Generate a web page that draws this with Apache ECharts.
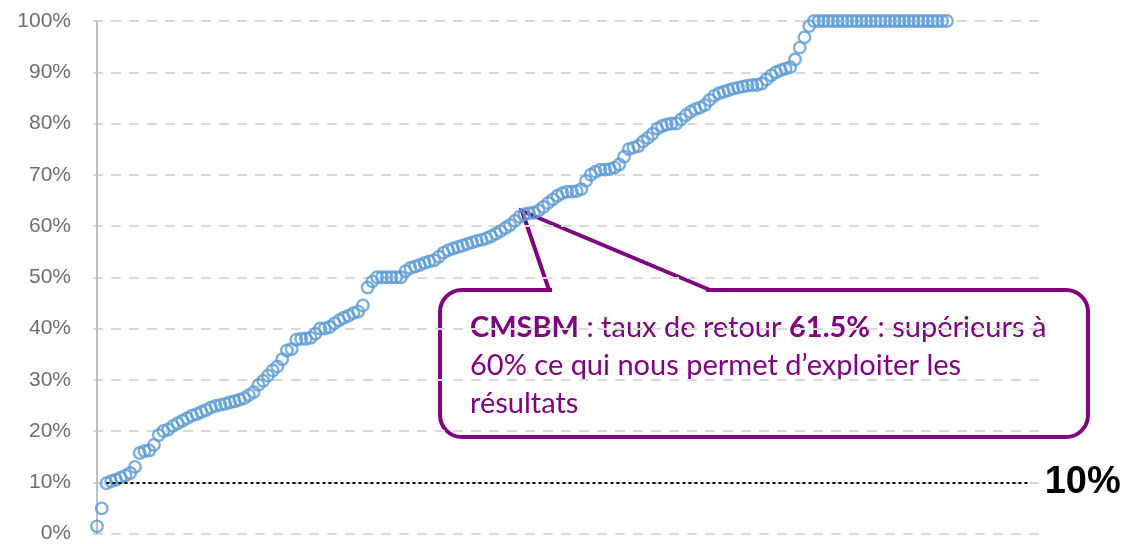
<!DOCTYPE html>
<html>
<head>
<meta charset="utf-8">
<script src="https://cdn.jsdelivr.net/npm/echarts@6/dist/echarts.min.js"></script>
<style>
  html, body { margin: 0; padding: 0; background: #fff; }
  #myChart { width: 1136px; height: 544px; }
</style>
</head>
<body>
<div id="myChart"></div>
<script>
// taux de retour par établissement (trié), en %
var tauxRetour = [
  1.4, 4.9, 9.8, 10.2, 10.5, 10.9, 11.3, 11.8, 13.0, 15.7,
  16.1, 16.2, 17.3, 19.2, 20.0, 20.3, 21.0, 21.5, 22.0, 22.5,
  23.0, 23.3, 23.7, 24.1, 24.6, 24.9, 25.1, 25.3, 25.6, 25.8,
  26.1, 26.4, 27.0, 27.6, 29.0, 29.8, 30.8, 31.8, 32.6, 34.0,
  35.7, 36.0, 37.8, 38.0, 38.0, 38.2, 39.0, 40.0, 40.0, 40.3,
  41.0, 41.6, 42.1, 42.5, 43.0, 43.3, 44.5, 48.0, 49.2, 50.0,
  50.0, 50.0, 50.0, 50.0, 50.0, 51.2, 51.8, 52.1, 52.4, 52.8,
  53.1, 53.3, 54.0, 54.8, 55.3, 55.6, 55.9, 56.2, 56.5, 56.8,
  57.1, 57.3, 57.6, 58.0, 58.5, 59.0, 59.6, 60.2, 61.0, 61.8,
  62.3, 62.5, 62.6, 63.0, 63.7, 64.5, 65.2, 65.9, 66.4, 66.7,
  66.7, 66.8, 67.2, 68.8, 70.0, 70.6, 71.0, 71.0, 71.1, 71.4,
  72.0, 73.5, 75.0, 75.3, 75.6, 76.5, 77.2, 78.0, 79.0, 79.5,
  79.8, 80.0, 80.0, 80.8, 81.6, 82.3, 82.8, 83.1, 83.6, 84.6,
  85.4, 85.9, 86.2, 86.5, 86.8, 87.0, 87.2, 87.4, 87.5, 87.5,
  87.8, 88.6, 89.4, 90.0, 90.4, 90.7, 91.0, 92.5, 94.8, 96.8,
  99.0, 100, 100, 100, 100, 100, 100, 100, 100, 100,
  100, 100, 100, 100, 100, 100, 100, 100, 100, 100,
  100, 100, 100, 100, 100, 100, 100, 100, 100, 100
];
var seuil = 10;
var yTicks = ['0%', '10%', '20%', '30%', '40%', '50%', '60%', '70%', '80%', '90%', '100%'];

var points = tauxRetour.map(function (v, i) { return [i, v]; });

var violet = '#800080';
var myChart = echarts.init(document.getElementById('myChart'));

var option = {
    animation: false,
    grid: { left: 93, right: 96, top: 21, bottom: 9, containLabel: false },
    xAxis: {
        type: 'value',
        min: -0.84,
        max: 198.6,
        show: false
    },
    yAxis: {
        type: 'value',
        min: 0,
        max: 100,
        interval: 10,
        axisLine: { show: true, lineStyle: { color: '#bfbfbf', width: 2 } },
        axisTick: { show: false },
        axisLabel: {
            margin: 22,
            fontSize: 21,
            color: '#6e6e6e',
            fontFamily: 'Liberation Sans',
            formatter: function (v) { return yTicks[Math.round(v / 10)]; }
        },
        splitLine: { show: true, lineStyle: { color: '#d9d9d9', width: 2, type: [10, 8] } }
    },
    series: [
        {
            name: 'taux de retour',
            type: 'scatter',
            data: points,
            symbol: 'circle',
            symbolSize: 11.5,
            itemStyle: { color: 'rgba(0,0,0,0)', borderColor: '#5b9bd5', borderWidth: 2.4 },
            markLine: {
                silent: true,
                symbol: 'none',
                lineStyle: { color: '#000', width: 2, type: [3, 3] },
                label: {
                    show: true,
                    position: 'end',
                    distance: 17,
                    formatter: seuil + '%',
                    fontSize: 38,
                    fontWeight: 'bold',
                    color: '#000',
                    fontFamily: 'Liberation Sans'
                },
                data: [[{ xAxis: 2, yAxis: seuil }, { xAxis: 196, yAxis: seuil }]]
            }
        }
    ],
    graphic: [
        // bulle
        {
            type: 'rect',
            silent: true,
            shape: { x: 440, y: 290, width: 648, height: 147, r: 22 },
            style: { fill: 'none', stroke: violet, lineWidth: 4 }
        },
        {
            type: 'line',
            silent: true,
            shape: { x1: 552, y1: 290, x2: 706, y2: 290 },
            style: { stroke: '#fff', lineWidth: 7 }
        },
        {
            type: 'polyline',
            silent: true,
            shape: { points: [[549, 290], [522, 211], [710, 290]] },
            style: { fill: 'none', stroke: violet, lineWidth: 4, lineJoin: 'miter' }
        },
        {
            type: 'text',
            silent: true,
            x: 470,
            y: 309,
            style: {
                text: '{b|CMSBM} : taux de retour {b|61.5%} : supérieurs à\n60% ce qui nous permet d\u2019exploiter les\nrésultats',
                fontSize: 29,
                fontFamily: 'Lato',
                fill: violet,
                lineHeight: 38,
                verticalAlign: 'top',
                rich: {
                    b: { fontSize: 29, fontFamily: 'Lato', fontWeight: 'bold', fill: violet, lineHeight: 38 }
                }
            }
        }
    ]
};

myChart.setOption(option);
</script>
</body>
</html>
